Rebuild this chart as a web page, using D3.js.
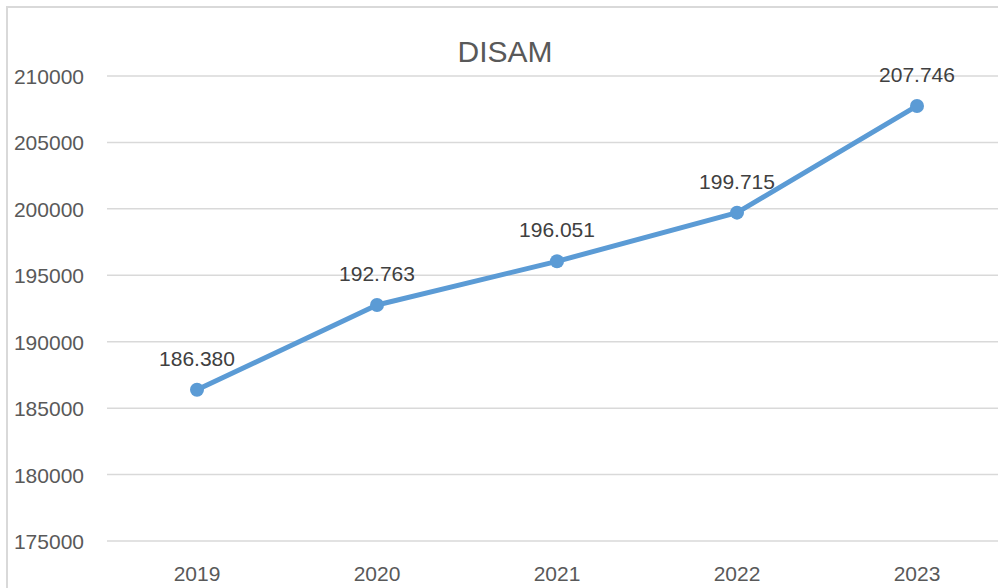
<!DOCTYPE html>
<html><head><meta charset="utf-8">
<script src="https://cdn.jsdelivr.net/npm/d3@7"></script>
<style>body{margin:0;background:#fff}svg{display:block}</style>
</head><body>
<script>
const categories = ["2019","2020","2021","2022","2023"];
const values = [186380, 192763, 196051, 199715, 207746];
const labels = ["186.380","192.763","196.051","199.715","207.746"];
const yTicks = [175000,180000,185000,190000,195000,200000,205000,210000];
const title = "DISAM";

const W = 998, H = 588;
const svg = d3.select("body").append("svg").attr("width", W).attr("height", H);
const font = "'Liberation Sans', Arial, sans-serif";
const txt = "#595959";

// chart border
svg.append("path").attr("d", `M7,${H+5} V7 H${W+5}`).attr("fill","none").attr("stroke","#d9d9d9").attr("stroke-width",2);

const x = d3.scaleBand().domain(categories).range([107, 1007]);
const y = d3.scaleLinear().domain([175000, 210000]).range([541, 76]);

// gridlines
svg.append("g").selectAll("line").data(yTicks).join("line")
  .attr("x1", 107).attr("x2", W).attr("y1", d => y(d)).attr("y2", d => y(d))
  .attr("stroke", "#d9d9d9").attr("stroke-width", 1.5);

// y axis labels
const yAxis = d3.axisLeft(y).tickValues(yTicks).tickFormat(d3.format("d")).tickSize(0).tickPadding(0);
const gy = svg.append("g").attr("transform", "translate(84,0)").call(yAxis);
gy.select(".domain").remove();
gy.selectAll("text").attr("font-family", font).attr("font-size", 21).attr("fill", txt).attr("dy", "0.36em");

// x axis labels
const xAxis = d3.axisBottom(x).tickSize(0).tickPadding(0);
const gx = svg.append("g").attr("transform", "translate(0,562)").call(xAxis);
gx.select(".domain").remove();
gx.selectAll("text").attr("font-family", font).attr("font-size", 21).attr("fill", txt).attr("dy", "0.9em");

const cx = (d, i) => x(categories[i]) + x.bandwidth() / 2;

// line
const line = d3.line().x((d, i) => cx(d, i)).y(d => y(d));
svg.append("path").datum(values).attr("d", line).attr("fill", "none")
  .attr("stroke", "#5b9bd5").attr("stroke-width", 5).attr("stroke-linejoin", "round");

// markers
svg.append("g").selectAll("circle").data(values).join("circle")
  .attr("cx", cx).attr("cy", d => y(d)).attr("r", 7).attr("fill", "#5b9bd5");

// data labels
svg.append("g").selectAll("text").data(values).join("text")
  .attr("x", cx).attr("y", d => y(d) - 24).attr("text-anchor", "middle")
  .attr("font-family", font).attr("font-size", 21).attr("fill", "#404040")
  .text((d, i) => labels[i]);

// title
svg.append("text").attr("x", 505).attr("y", 62).attr("text-anchor", "middle")
  .attr("font-family", font).attr("font-size", 30).attr("fill", txt).text(title);
</script>
</body></html>
